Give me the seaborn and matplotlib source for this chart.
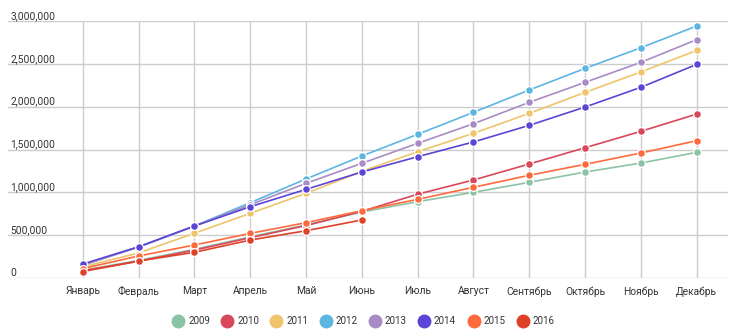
import matplotlib
matplotlib.use("Agg")
import matplotlib.pyplot as plt
from matplotlib.lines import Line2D
from matplotlib.ticker import FuncFormatter
import numpy as np
import pandas as pd
import seaborn as sns

months = ["Январь", "Февраль", "Март", "Апрель", "Май", "Июнь",
          "Июль", "Август", "Сентябрь", "Октябрь", "Ноябрь", "Декабрь"]

years = ["2009", "2010", "2011", "2012", "2013", "2014", "2015", "2016"]

# cumulative totals by month
y2009 = [90000, 205000, 335000, 480000, 620000, 770000, 891000, 1000000, 1117000, 1237000, 1342000, 1467000]
y2010 = [85000, 195000, 325000, 470000, 612000, 778000, 978000, 1144000, 1331000, 1521000, 1712000, 1914000]
y2011 = [130000, 292000, 522000, 755000, 988000, 1245000, 1474000, 1689000, 1922000, 2167000, 2405000, 2657000]
y2012 = [150000, 362000, 607000, 879000, 1156000, 1424000, 1677000, 1934000, 2195000, 2447000, 2688000, 2942000]
y2013 = [150000, 360000, 605000, 855000, 1105000, 1339000, 1572000, 1801000, 2051000, 2284000, 2518000, 2782000]
y2014 = [163000, 365000, 607000, 832000, 1035000, 1237000, 1416000, 1588000, 1782000, 1996000, 2226000, 2494000]
y2015 = [110000, 257000, 385000, 521000, 646000, 786000, 918000, 1059000, 1199000, 1327000, 1459000, 1603000]
y2016 = [75000, 198000, 300000, 443000, 552000, 677000]

series = [y2009, y2010, y2011, y2012, y2013, y2014, y2015, y2016]

colors = ["#8CC3A6", "#D8475A", "#EFC46B", "#5DB5E2",
          "#A88CC5", "#5B45D6", "#FF6A3C", "#DF4128"]

yticks = [0, 500000, 1000000, 1500000, 2000000, 2500000, 3000000]

rows = []
for yr, vals in zip(years, series):
    for i, v in enumerate(vals):
        rows.append({"year": yr, "month": i, "value": v})
df = pd.DataFrame(rows)

sns.set_theme(style="white")
plt.rcParams["font.family"] = ["Roboto", "DejaVu Sans"]

fig = plt.figure(figsize=(7.5, 3.36), dpi=100)
ax = fig.add_axes([8 / 750, 58 / 336, 720 / 750, 257 / 336])

sns.lineplot(data=df, x="month", y="value", hue="year", hue_order=years,
             palette=colors, marker="o", markersize=5.6,
             markeredgecolor="white", markeredgewidth=0.9,
             linewidth=1.2, legend=False, ax=ax, zorder=3)

ax.set_xlim(-1.34, 11.56)
ax.set_ylim(0, 3000000)
ax.set_xticks(range(len(months)))
ax.set_xticklabels(months)
ax.set_yticks(yticks)
ax.yaxis.set_major_formatter(FuncFormatter(lambda v, p: f"{int(v):,}"))
ax.set_xlabel("")
ax.set_ylabel("")

for s in ax.spines.values():
    s.set_visible(False)

ax.grid(True, axis="both", color="#cccccc", linewidth=1.0, zorder=0)
ax.set_axisbelow(True)

ax.tick_params(axis="x", length=0, pad=6, labelsize=7.4, labelcolor="#333333")
ax.tick_params(axis="y", length=0, pad=-1.5, labelsize=7.4, labelcolor="#333333")
for lab in ax.get_yticklabels():
    lab.set_horizontalalignment("left")
    lab.set_verticalalignment("bottom")

handles = [Line2D([0], [0], marker="o", linestyle="none", markersize=9,
                  markerfacecolor=c, markeredgecolor=c) for c in colors]
fig.legend(handles, years, loc="center", bbox_to_anchor=(364 / 750, 1 - 321 / 336),
           ncol=8, frameon=False, fontsize=7, handletextpad=0.5,
           columnspacing=1.3, handlelength=1.0, labelcolor="#333333")

fig.savefig("out.png", dpi=100)
